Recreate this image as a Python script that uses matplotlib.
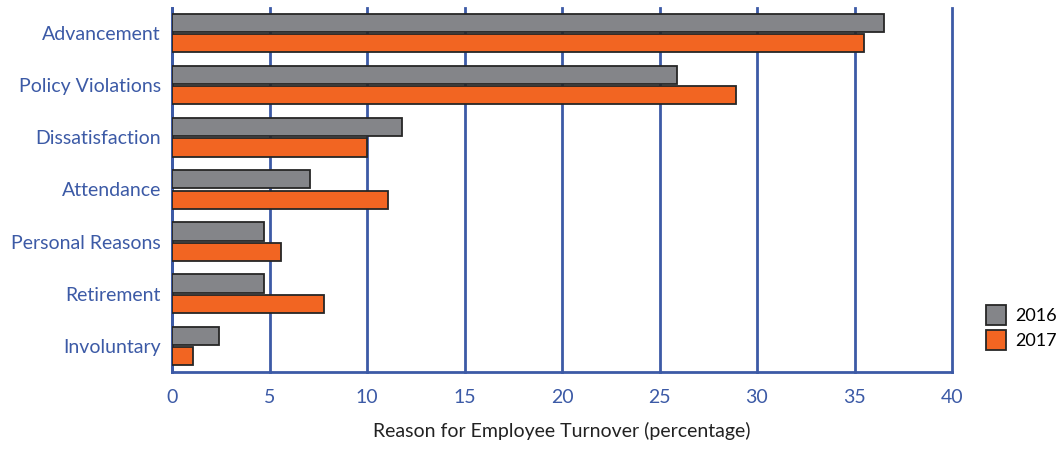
import matplotlib
matplotlib.use("Agg")
import matplotlib.pyplot as plt
import numpy as np
from matplotlib.patches import Patch

categories = ["Advancement", "Policy Violations", "Dissatisfaction", "Attendance",
              "Personal Reasons", "Retirement", "Involuntary"]
values_2016 = [36.5, 25.9, 11.8, 7.1, 4.7, 4.7, 2.4]
values_2017 = [35.5, 28.9, 10.0, 11.1, 5.6, 7.8, 1.1]
series_labels = ["2016", "2017"]
x_ticks = [0, 5, 10, 15, 20, 25, 30, 35, 40]
x_label = "Reason for Employee Turnover (percentage)"

plt.rcParams['font.family'] = ['Lato', 'DejaVu Sans']

BLUE = "#3c5aa6"
GRAY = "#848589"
ORANGE = "#f26522"
EDGE = "#262626"

fig = plt.figure(figsize=(10.58, 4.49), dpi=100)
ax = fig.add_axes([172/1058, 1-372/449, (952-172)/1058, (372-8)/449])

y = np.arange(len(categories))
h = 0.35
off = 0.195
ax.barh(y - off, values_2016, height=h, color=GRAY, edgecolor=EDGE, linewidth=1.3, zorder=3)
ax.barh(y + off, values_2017, height=h, color=ORANGE, edgecolor=EDGE, linewidth=1.3, zorder=3)

ax.set_xlim(0, 40)
ax.set_ylim(6.5, -0.48)
ax.set_xticks(x_ticks)
ax.set_xticklabels([str(t) for t in x_ticks], color=BLUE, fontsize=14)
ax.set_yticks(y)
ax.set_yticklabels(categories, color=BLUE, fontsize=14)
ax.tick_params(axis='both', length=0)
ax.tick_params(axis='y', pad=8)
ax.tick_params(axis='x', pad=12)

ax.xaxis.grid(True, color=BLUE, linewidth=2, zorder=0)
for gl in ax.get_xgridlines():
    gl.set_clip_on(False)
ax.set_axisbelow(True)
for s in ["top", "right"]:
    ax.spines[s].set_visible(False)
for s in ["left", "bottom"]:
    ax.spines[s].set_color(BLUE)
    ax.spines[s].set_linewidth(2)

ax.set_xlabel(x_label, fontsize=14, color="#222222", labelpad=12)

handles = [Patch(facecolor=GRAY, edgecolor=EDGE, linewidth=1.3),
           Patch(facecolor=ORANGE, edgecolor=EDGE, linewidth=1.3)]
fig.legend(handles, series_labels, loc="upper left", bbox_to_anchor=(986/1058, 1-305/449),
           frameon=False, fontsize=13, handlelength=1.1, handleheight=1.3,
           handletextpad=0.5, labelspacing=0.3, borderaxespad=0, borderpad=0)

fig.savefig("out.png", dpi=100)
